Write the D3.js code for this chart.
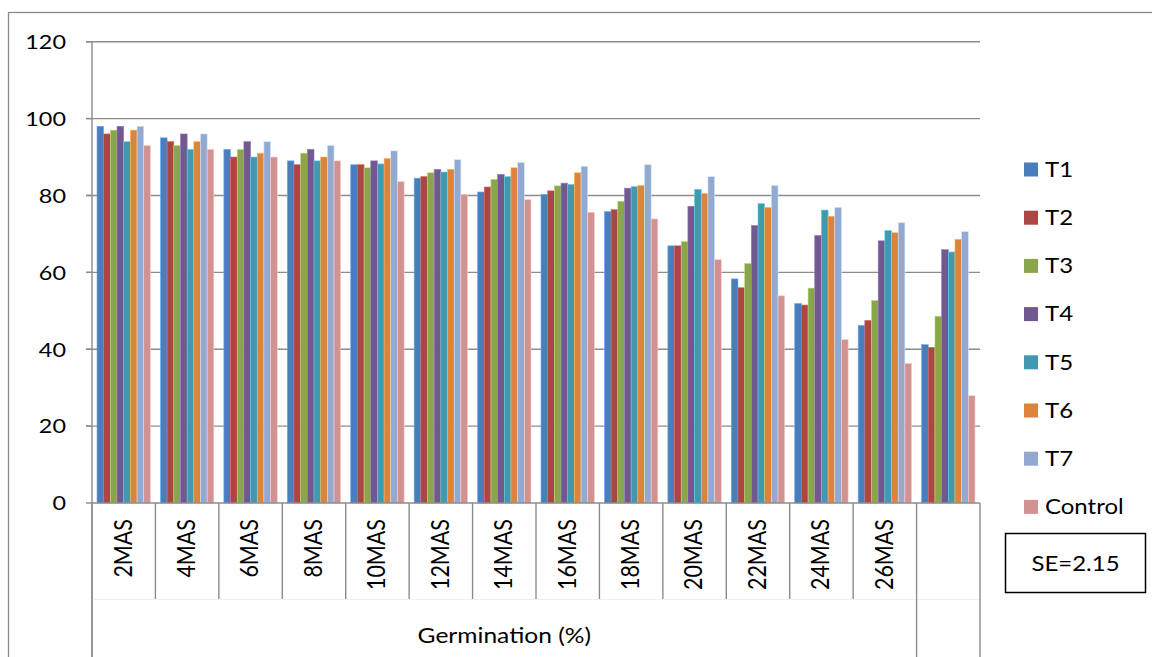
<!DOCTYPE html>
<html>
<head>
<meta charset="utf-8">
<script src="https://cdn.jsdelivr.net/npm/d3@7"></script>
<style>
  html, body { margin: 0; padding: 0; background: #ffffff; }
  svg { display: block; }
  text { font-family: Lato, "Open Sans", "Liberation Sans", sans-serif; fill: #000; }
</style>
</head>
<body>
<svg id="chart" width="1152" height="657"></svg>
<script>
// ---------- data ----------
const categories = ["2MAS","4MAS","6MAS","8MAS","10MAS","12MAS","14MAS","16MAS","18MAS","20MAS","22MAS","24MAS","26MAS",""];
const groupLabel = "Germination (%)";
const seriesNames = ["T1","T2","T3","T4","T5","T6","T7","Control"];
const T1 = [98,95,92,89,88.0,84.5,80.9,80.3,75.8,66.9,58.3,51.9,46.2,41.2];
const T2 = [96,94,90,88,88.0,84.9,82.2,81.2,76.3,66.9,56.0,51.5,47.5,40.5];
const T3 = [97,93,92,91,87.2,85.9,84.2,82.5,78.5,68.0,62.3,55.9,52.7,48.6];
const T4 = [98,96,94,92,89.0,86.8,85.5,83.2,81.9,77.2,72.2,69.6,68.2,65.9];
const T5 = [94,92,90,89,88.2,86.1,84.9,82.9,82.3,81.6,77.9,76.2,70.9,65.3];
const T6 = [97,94,91,90,89.6,86.8,87.2,85.9,82.6,80.5,76.9,74.6,70.3,68.6];
const T7 = [98,96,94,93,91.6,89.3,88.6,87.6,88.0,84.9,82.6,76.9,72.9,70.6];
const Control = [93,92,90,89,83.6,80.3,78.9,75.6,73.9,63.3,53.9,42.5,36.3,27.9];
const seriesValues = [T1,T2,T3,T4,T5,T6,T7,Control];
const colors = ["#4A7EBB","#AA4643","#89A54E","#71588F","#4198AF","#DB843D","#93A9CF","#D19392"];
const yTicks = [0,20,40,60,80,100,120];
const seLabel = "SE=2.15";

// ---------- layout ----------
const svg = d3.select("#chart");
const plot = {left: 92, right: 980, top: 41.7, bottom: 503};
const SX = 1.17; // horizontal text stretch
const gridColor = "#8c8c8c";

function txt(g, x, y, s, opts) {
  opts = opts || {};
  const t = g.append("text")
    .attr("transform", `translate(${x},${y}) scale(${SX},1)` + (opts.rotate ? ` rotate(${opts.rotate})` : ""))
    .attr("text-anchor", opts.anchor || "start")
    .attr("font-size", opts.size || 19.5)
    .text(s);
  return t;
}

// outer chart border
svg.append("rect").attr("x", 8.5).attr("y", 12.5).attr("width", 1400).attr("height", 900)
  .attr("fill", "none").attr("stroke", "#8a8a8a").attr("stroke-width", 1.3);

const y = d3.scaleLinear().domain([0,120]).range([plot.bottom, plot.top]);
const x0 = d3.scaleBand().domain(d3.range(categories.length)).range([plot.left, plot.right]).paddingInner(0).paddingOuter(0);
const x1 = d3.scaleBand().domain(d3.range(seriesNames.length)).range([0, x0.bandwidth()]).paddingInner(0).paddingOuter(0.75);

// gridlines
svg.append("g").selectAll("line").data(yTicks.filter(d => d > 0)).join("line")
  .attr("x1", plot.left - 6).attr("x2", plot.right)
  .attr("y1", d => y(d)).attr("y2", d => y(d))
  .attr("stroke", gridColor).attr("stroke-width", 1.4);

// bars
const bars = svg.append("g");
seriesValues.forEach((vals, si) => {
  bars.append("g").selectAll("rect").data(vals).join("rect")
    .attr("x", (d, i) => x0(i) + x1(si))
    .attr("y", d => y(d))
    .attr("width", x1.bandwidth())
    .attr("height", d => y(0) - y(d))
    .attr("fill", colors[si])
    .attr("stroke", d3.color(colors[si]).brighter(0.9))
    .attr("stroke-width", 0.6);
});

// y axis
const yAxis = svg.append("g");
yAxis.append("line").attr("x1", plot.left).attr("x2", plot.left).attr("y1", plot.top).attr("y2", 657)
  .attr("stroke", gridColor).attr("stroke-width", 1.4);
yAxis.selectAll("line.tick").data(yTicks).join("line").attr("class","tick")
  .attr("x1", plot.left - 6).attr("x2", plot.left).attr("y1", d => y(d)).attr("y2", d => y(d))
  .attr("stroke", gridColor).attr("stroke-width", 1.4);
yTicks.forEach(d => txt(yAxis, 66, y(d) + 7.3, String(d), {anchor: "end", size: 20}));

// x axis
const xAxis = svg.append("g");
xAxis.append("line").attr("x1", plot.left).attr("x2", plot.right).attr("y1", plot.bottom).attr("y2", plot.bottom)
  .attr("stroke", gridColor).attr("stroke-width", 1.4);
// faint level separator
xAxis.append("line").attr("x1", plot.left).attr("x2", plot.right).attr("y1", 599.5).attr("y2", 599.5)
  .attr("stroke", "#f0f0f0").attr("stroke-width", 1);
const boundaries = d3.range(categories.length + 1);
xAxis.selectAll("line.div").data(boundaries).join("line").attr("class","div")
  .attr("x1", i => i < categories.length ? x0(i) : plot.right)
  .attr("x2", i => i < categories.length ? x0(i) : plot.right)
  .attr("y1", plot.bottom)
  .attr("y2", i => (i === 0 || i >= categories.length - 1) ? 657 : 599)
  .attr("stroke", gridColor).attr("stroke-width", 1.4);
categories.forEach((c, i) => {
  if (!c) return;
  txt(xAxis, x0(i) + x0.bandwidth()/2 + 7.8, 519, c, {anchor: "end", rotate: -90, size: 21.5});
});
txt(xAxis, (x0(0) + x0(categories.length - 1)) / 2, 643, groupLabel, {anchor: "middle", size: 21});

// legend
const legend = svg.append("g");
seriesNames.forEach((n, i) => {
  const cy = 169.5 + 48.2 * i;
  legend.append("rect").attr("x", 1024).attr("y", cy - 7).attr("width", 14).attr("height", 14).attr("fill", colors[i]);
  txt(legend, 1045, cy + 7.3, n, {size: 20.5});
});

// SE box
svg.append("rect").attr("x", 1005.5).attr("y", 533.5).attr("width", 140).attr("height", 59)
  .attr("fill", "#fff").attr("stroke", "#000").attr("stroke-width", 1.5);
txt(svg, 1075.5, 571, seLabel, {anchor: "middle", size: 20.5});
</script>
</body>
</html>
